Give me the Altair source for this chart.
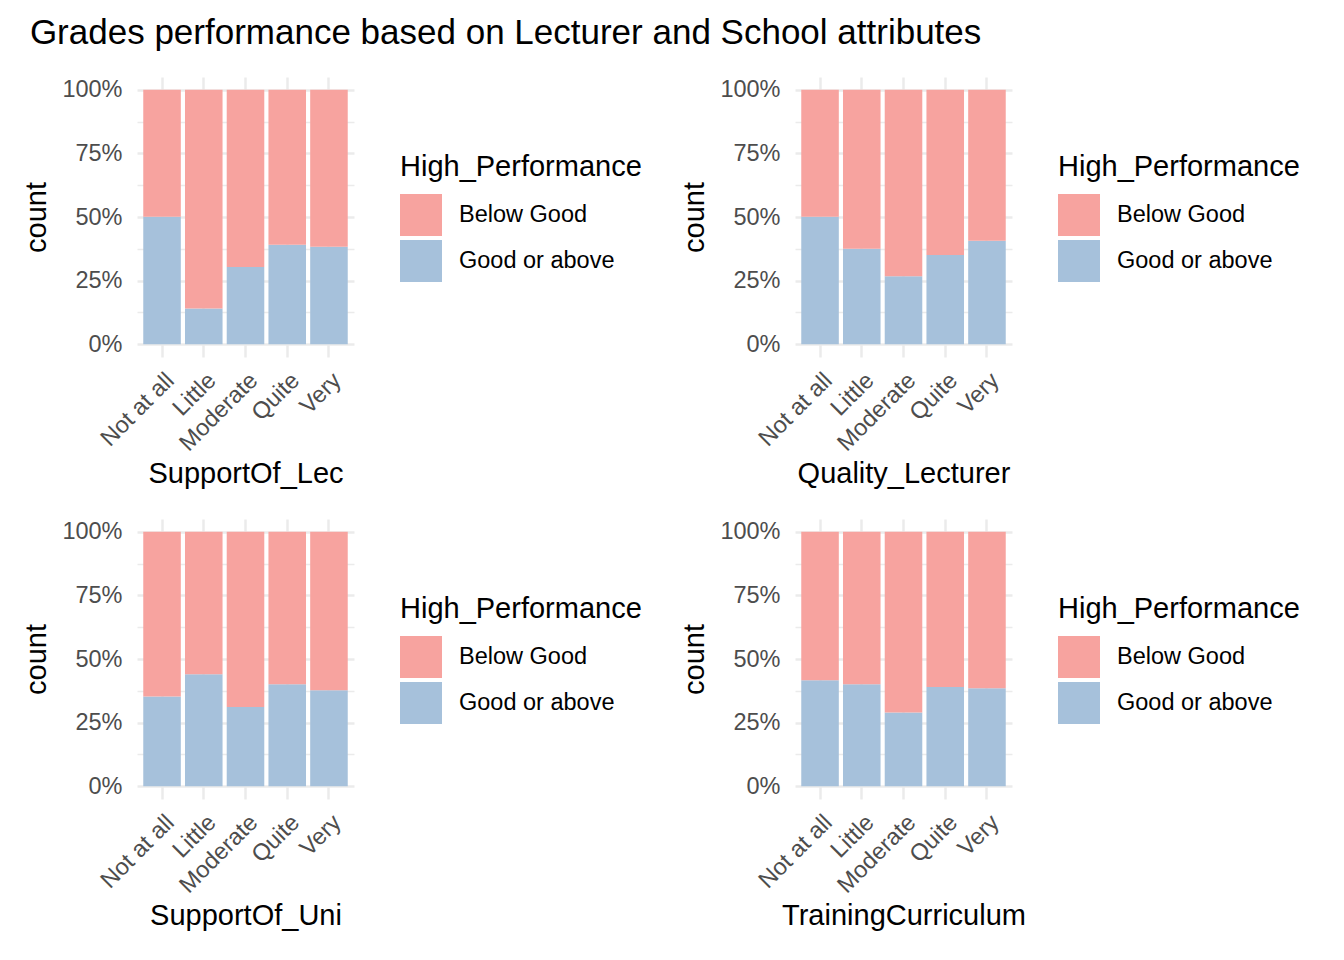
import altair as alt
import pandas as pd

FONT = "Liberation Sans"

levels = ["Not at all", "Little", "Moderate", "Quite", "Very"]
perf_levels = ["Below Good", "Good or above"]
perf_colors = ["#F7A39F", "#A6C1DB"]

# share of "Good or above" per level
good_support_lec = [0.501, 0.141, 0.304, 0.391, 0.383]
good_quality_lec = [0.501, 0.375, 0.267, 0.351, 0.407]
good_support_uni = [0.353, 0.440, 0.311, 0.401, 0.377]
good_training = [0.417, 0.401, 0.290, 0.390, 0.385]

panels = [
    ("SupportOf_Lec", good_support_lec),
    ("Quality_Lecturer", good_quality_lec),
    ("SupportOf_Uni", good_support_uni),
    ("TrainingCurriculum", good_training),
]

y_values = [0, 0.125, 0.25, 0.375, 0.5, 0.625, 0.75, 0.875, 1.0]


def panel(name, good):
    rows = []
    for lvl, g in zip(levels, good):
        rows.append({"level": lvl, "High_Performance": "Good or above", "share": g, "ord": 0})
        rows.append({"level": lvl, "High_Performance": "Below Good", "share": 1 - g, "ord": 1})
    df = pd.DataFrame(rows)
    return (
        alt.Chart(df)
        .mark_bar()
        .encode(
            x=alt.X(
                "level:N",
                sort=levels,
                scale=alt.Scale(paddingInner=0.1, paddingOuter=0.15),
                axis=alt.Axis(
                    title=name,
                    labelAngle=-45,
                    labelAlign="right",
                    labelBaseline="top",
                    bandPosition=0.5,
                    grid=True,
                    ticks=False,
                    domain=False,
                    gridColor="#EBEBEB",
                    gridWidth=2.5,
                    labelPadding=11,
                    titlePadding=5,
                ),
            ),
            y=alt.Y(
                "share:Q",
                stack="zero",
                scale=alt.Scale(domain=[-0.05, 1.05], nice=False, zero=False),
                axis=alt.Axis(
                    title="count",
                    values=y_values,
                    labelExpr="datum.value % 0.25 == 0 ? format(datum.value, '.0%') : ''",
                    grid=True,
                    gridColor="#EBEBEB",
                    gridWidth={"condition": {"test": "datum.value % 0.25 != 0", "value": 1.3}, "value": 2.5},
                    ticks=False,
                    domain=False,
                    labelPadding=15,
                    titlePadding=10,
                ),
            ),
            color=alt.Color(
                "High_Performance:N",
                scale=alt.Scale(domain=perf_levels, range=perf_colors),
                legend=alt.Legend(
                    title="High_Performance",
                    orient="none",
                    legendX=263,
                    legendY=76,
                    symbolType="square",
                    symbolSize=1764,
                    symbolStrokeWidth=0,
                    symbolOpacity=1,
                    rowPadding=4,
                    labelOffset=17,
                    titlePadding=12,
                    titleLimit=500,
                    labelLimit=400,
                ),
            ),
            order=alt.Order("ord:Q", sort="ascending"),
        )
        .properties(width=217, height=280)
    )


charts = [panel(n, g) for n, g in panels]

chart = (
    alt.concat(*charts, columns=2, spacing={"row": 30, "column": 38})
    .resolve_scale(color="independent")
    .resolve_legend(color="independent")
    .properties(
        title=alt.Title(
            "Grades performance based on Lecturer and School attributes",
            anchor="start",
            fontSize=35,
            font=FONT,
            fontWeight="normal",
            color="black",
            offset=26,
            dx=7,
        ),
        padding={"left": 14, "top": 8, "right": 5, "bottom": 5},
    )
    .configure_view(stroke=None)
    .configure_axis(
        labelFont=FONT,
        titleFont=FONT,
        labelFontSize=23.5,
        titleFontSize=29,
        labelColor="#4D4D4D",
        titleColor="black",
        titleFontWeight="normal",
    )
    .configure_legend(
        labelFont=FONT,
        titleFont=FONT,
        labelFontSize=23.5,
        titleFontSize=29,
        labelColor="black",
        titleColor="black",
        titleFontWeight="normal",
    )
)

chart.save("out.html", embed_options={"renderer": "svg", "actions": False})
